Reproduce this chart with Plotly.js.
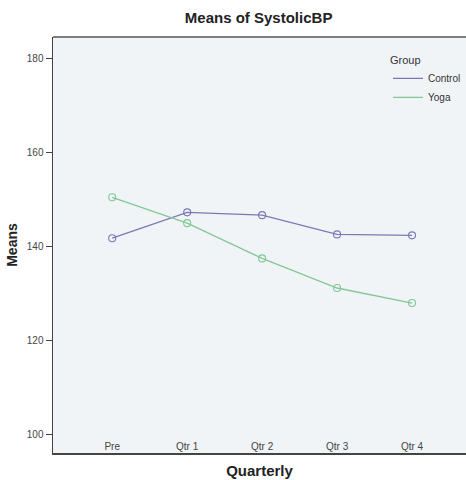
<!DOCTYPE html>
<html>
<head>
<meta charset="utf-8">
<script src="https://cdn.plot.ly/plotly-3.0.1.min.js"></script>
<style>html,body{margin:0;padding:0;background:#fff;}#chart{width:466px;height:480px;}</style>
</head>
<body>
<div id="chart"></div>
<script>
const quarters = ["Pre", "Qtr 1", "Qtr 2", "Qtr 3", "Qtr 4"];
const controlMeans = [141.7, 147.2, 146.6, 142.5, 142.3];
const yogaMeans = [150.4, 144.9, 137.4, 131.1, 127.9];
const yTicks = [100, 120, 140, 160, 180];

const font = "Liberation Sans, Arial, sans-serif";
const controlColor = "#7b78b6";
const yogaColor = "#82c796";

const traces = [
  {
    x: quarters, y: controlMeans, name: "Control", type: "scatter", mode: "lines+markers",
    line: {color: controlColor, width: 1.3},
    marker: {symbol: "circle-open", size: 7, color: controlColor, line: {width: 1.1}},
    showlegend: false
  },
  {
    x: quarters, y: yogaMeans, name: "Yoga", type: "scatter", mode: "lines+markers",
    line: {color: yogaColor, width: 1.3},
    marker: {symbol: "circle-open", size: 7, color: yogaColor, line: {width: 1.1}},
    showlegend: false
  },
  {x: [null], y: [null], name: "Control", type: "scatter", mode: "lines", line: {color: controlColor, width: 1.3}},
  {x: [null], y: [null], name: "Yoga", type: "scatter", mode: "lines", line: {color: yogaColor, width: 1.3}}
];

const layout = {
  width: 466, height: 480,
  margin: {l: 53, r: 0, t: 37, b: 27},
  paper_bgcolor: "#ffffff",
  plot_bgcolor: "#f1f4f6",
  font: {family: font, color: "#333"},
  title: {text: "<b>Means of SystolicBP</b>", font: {size: 15, color: "#222", family: font}, x: 0.555, xanchor: "center", y: 0.962, yanchor: "middle"},
  xaxis: {
    type: "category",
    range: [-0.79, 4.72],
    showgrid: false, zeroline: false,
    showline: true, linecolor: "#444", linewidth: 1.5,
    ticks: "", ticklabelposition: "inside",
    tickfont: {size: 10, color: "#444"},
    title: {text: "<b>Quarterly</b>", font: {size: 15, color: "#222"}, standoff: 14}
  },
  yaxis: {
    range: [96.0, 184.5],
    tickvals: yTicks,
    showgrid: false, zeroline: false,
    showline: true, linecolor: "#444", linewidth: 1.5,
    ticks: "outside", ticklen: 6, tickcolor: "#444", tickwidth: 1.2,
    tickfont: {size: 10, color: "#444"},
    title: {text: "<b>Means</b>", font: {size: 14, color: "#222"}, standoff: 6}
  },
  shapes: [
    {type: "line", xref: "paper", yref: "paper", x0: 0, x1: 1, y0: 1, y1: 1, line: {color: "#555", width: 1.5}}
  ],
  legend: {
    title: {text: "Group", font: {size: 11, color: "#333"}},
    x: 1.0, xanchor: "right", y: 0.97, yanchor: "top",
    bgcolor: "rgba(0,0,0,0)",
    font: {size: 10, color: "#333"},
    itemwidth: 30, tracegroupgap: 0
  },
  showlegend: true
};

Plotly.newPlot("chart", traces, layout, {displayModeBar: false, staticPlot: true});
</script>
</body>
</html>
